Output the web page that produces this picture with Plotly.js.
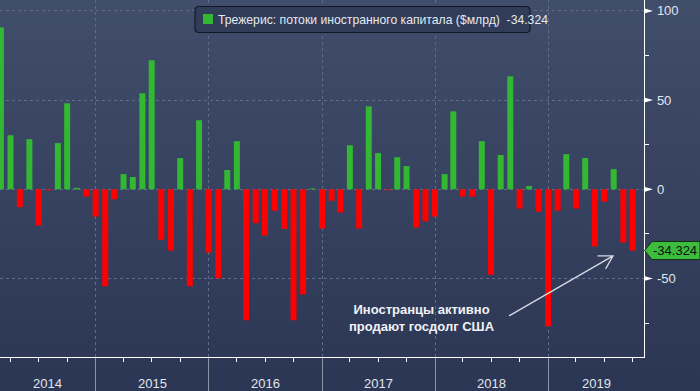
<!DOCTYPE html>
<html><head><meta charset="utf-8">
<script src="https://cdn.plot.ly/plotly-3.0.1.min.js"></script>
<style>
html,body{margin:0;padding:0;width:700px;height:391px;overflow:hidden;}
body{background:linear-gradient(to bottom,#404d6b 0%,#36425f 50%,#2a3654 100%);}
#chart{width:700px;height:391px;}
</style></head><body><div id="chart"></div>
<script>
// ---- data ----
const months = [
  '2014-02','2014-03','2014-04','2014-05','2014-06','2014-07','2014-08','2014-09','2014-10','2014-11','2014-12',
  '2015-01','2015-02','2015-03','2015-04','2015-05','2015-06','2015-07','2015-08','2015-09','2015-10','2015-11','2015-12',
  '2016-01','2016-02','2016-03','2016-04','2016-05','2016-06','2016-07','2016-08','2016-09','2016-10','2016-11','2016-12',
  '2017-01','2017-02','2017-03','2017-04','2017-05','2017-06','2017-07','2017-08','2017-09','2017-10','2017-11','2017-12',
  '2018-01','2018-02','2018-03','2018-04','2018-05','2018-06','2018-07','2018-08','2018-09','2018-10','2018-11','2018-12',
  '2019-01','2019-02','2019-03','2019-04','2019-05','2019-06','2019-07','2019-08','2019-09'
];
const flows = [
  90.7, 30.3, -10.0, 28.1, -20.3, -0.6, 25.9, 48.2, 0.8, -4.1, -15.3,
  -54.4, -5.6, 8.5, 6.9, 53.8, 72.3, -28.3, -34.3, 17.5, -54.4, 38.7, -35.4,
  -49.9, 10.8, 27.0, -73.4, -19.0, -25.9, -12.0, -22.2, -73.4, -58.9, 0.5, -22.0,
  -6.4, -13.0, 24.7, -22.0, 46.5, 20.3, -0.5, 18.0, 13.0, -21.4, -18.0, -15.3,
  8.5, 43.7, -4.1, -4.1, 27.0, -47.9, 19.2, 63.3, -10.8, 1.8, -12.5, -76.7,
  -12.0, 19.7, -10.8, 17.5, -32.0, -6.9, 11.3, -29.8, -34.324
];
const years = ['2014','2015','2016','2017','2018','2019'];
const yTickVals = [100, 50, 0, -50];
const yTickText = ['100', '50', '0', '-50'];
const seriesName = 'Трежерис: потоки иностранного капитала ($млрд)';
const noteLines = ['Иностранцы активно', 'продают госдолг США'];

// ---- styles ----
const GREEN = '#33b833', RED = '#ff0000';
const GRID = '#5f6d8b';
const FONT = 'Liberation Sans, Arial, sans-serif';
const r0 = Date.UTC(2014, 1, 26, 1, 40), r1 = Date.UTC(2019, 10, 6, 21, 0);
const fmt = ms => new Date(ms).toISOString().slice(0, 19).replace('T', ' ');
const last = flows[flows.length - 1];
const lastText = last.toFixed(3);

const boundaries = years.map(y => y + '-01-01').concat(['2020-01-01']);
const yearLabels = years.map(y => {
  const a = Math.max(Date.UTC(+y, 0, 1), r0), b = Math.min(Date.UTC(+y + 1, 0, 1), r1);
  return {xref: 'x', yref: 'paper', x: fmt((a + b) / 2), y: 0, yshift: -26, xanchor: 'center', yanchor: 'middle',
          text: y, showarrow: false, font: {family: FONT, size: 13, color: '#e2e5ec'}};
});

const trace = {
  type: 'bar', x: months, y: flows, xperiod: 'M1', xperiodalignment: 'end',
  width: 1.67e9,
  marker: {color: flows.map(v => v >= 0 ? GREEN : RED), line: {width: 0}},
  hoverinfo: 'skip', showlegend: false
};

const shapes = [];
yTickVals.forEach(v => shapes.push({type: 'path', xref: 'paper', yref: 'y', xsizemode: 'pixel', ysizemode: 'pixel',
  xanchor: 1, yanchor: v, path: 'M0,-2.6 L9,0 L0,2.6 Z', fillcolor: '#ffffff', line: {width: 0}}));
// value tag
shapes.push({type: 'path', xref: 'paper', yref: 'y', xsizemode: 'pixel', ysizemode: 'pixel', xanchor: 1, yanchor: last,
  path: 'M0.5,0 L8,9 L56,9 L56,-9 L8,-9 Z', fillcolor: '#3dbd3d', line: {color: '#153015', width: 1}});
// legend box
shapes.push({type: 'path', xref: 'paper', yref: 'paper', xsizemode: 'pixel', ysizemode: 'pixel', xanchor: 0, yanchor: 1,
  path: 'M199,-6.5 L526,-6.5 Q530,-6.5 530,-10.5 L530,-28.5 Q530,-32.5 526,-32.5 L199,-32.5 Q195,-32.5 195,-28.5 L195,-10.5 Q195,-6.5 199,-6.5 Z',
  fillcolor: '#313d58', line: {color: '#131826', width: 1.2}});
shapes.push({type: 'path', xref: 'paper', yref: 'paper', xsizemode: 'pixel', ysizemode: 'pixel', xanchor: 0, yanchor: 1,
  path: 'M203,-14 L213,-14 L213,-24 L203,-24 Z', fillcolor: GREEN, line: {width: 0}});
// arrow
shapes.push({type: 'path', xref: 'x', yref: 'y', xsizemode: 'pixel', ysizemode: 'pixel', xanchor: '2019-07-30', yanchor: -37.3,
  path: 'M-104,-60 L0,0 M-15.5,0 L0,0 L-7.5,-13', fillcolor: 'rgba(0,0,0,0)', line: {color: '#d6dae3', width: 1.3}});

const annotations = yearLabels.concat([
  {xref: 'paper', yref: 'paper', x: 0, y: 1, xshift: 216, yshift: -19.5, xanchor: 'left', yanchor: 'middle', showarrow: false,
   text: seriesName + '\u00a0\u00a0' + lastText, font: {family: FONT, size: 12.2, color: '#e6e9f0'}},
  {xref: 'paper', yref: 'y', x: 1, y: last, xshift: 7, xanchor: 'left', yanchor: 'middle', showarrow: false,
   text: lastText, font: {family: FONT, size: 13, color: '#0d0d0d'}},
  {xref: 'paper', yref: 'paper', x: 422 / 644, y: 1 - 318 / 357, xanchor: 'center', yanchor: 'middle', showarrow: false,
   text: '<b>' + noteLines.join('<br>') + '</b>', font: {family: FONT, size: 13, color: '#f0f2f6'}}
]);

const layout = {
  width: 700, height: 391, margin: {l: 0, r: 56, t: 0, b: 34, pad: 0},
  paper_bgcolor: 'rgba(0,0,0,0)', plot_bgcolor: 'rgba(0,0,0,0)', showlegend: false,
  xaxis: {type: 'date', range: [fmt(r0), fmt(r1)], tickmode: 'array', tickvals: boundaries, showticklabels: false,
    ticks: 'outside', ticklen: 34, tickcolor: '#8d95a8', tickwidth: 1,
    showgrid: true, gridcolor: GRID, griddash: '3px,3px', gridwidth: 1, zeroline: false,
    showline: true, linecolor: '#ffffff', linewidth: 1.3,
    minor: {tickmode: 'linear', tick0: '2014-01-01', dtick: 'M3', ticks: 'outside', ticklen: 4, tickcolor: '#ffffff', tickwidth: 1, showgrid: false}},
  yaxis: {side: 'right', range: [-94.0, 106.1], tickmode: 'array', tickvals: yTickVals, ticktext: yTickText,
    ticks: 'outside', ticklen: 9, tickcolor: 'rgba(0,0,0,0)',
    tickfont: {family: FONT, size: 13, color: '#e3e6ee'},
    showgrid: true, gridcolor: GRID, griddash: '3px,3px', gridwidth: 1, zeroline: false,
    showline: true, linecolor: '#ffffff', linewidth: 1.3,
    minor: {tickmode: 'linear', tick0: 0, dtick: 25, ticks: 'outside', ticklen: 4, tickcolor: '#ffffff', tickwidth: 1, showgrid: false}},
  shapes: shapes, annotations: annotations
};

Plotly.newPlot('chart', [trace], layout, {staticPlot: true, displayModeBar: false});
</script>
</body></html>
